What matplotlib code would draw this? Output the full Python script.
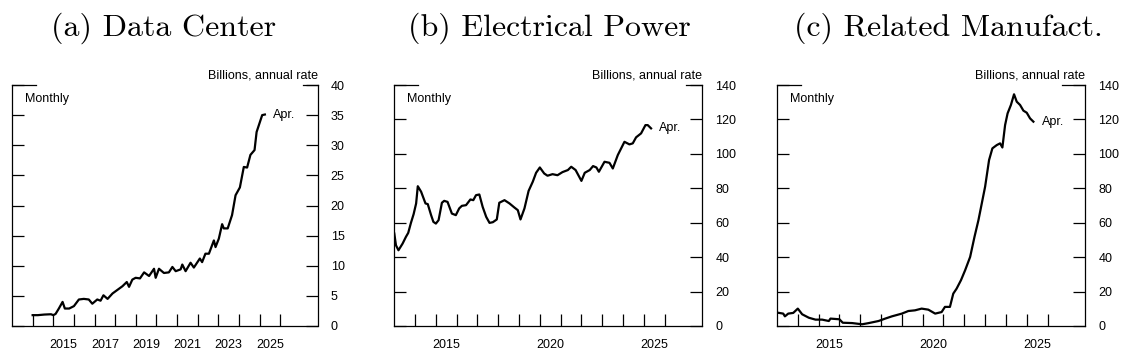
"""Three-panel construction spending chart (data center / electrical power / manufacturing)."""

import matplotlib
matplotlib.use("Agg")
import matplotlib.pyplot as plt
import numpy as np
from matplotlib.lines import Line2D

plt.rcParams["font.family"] = ["Liberation Sans", "DejaVu Sans"]
plt.rcParams["axes.unicode_minus"] = False

# (a) Data center, billions annual rate (decimal year, value)
dc_year = [2014.0, 2014.25, 2014.57, 2014.89, 2015.0, 2015.11, 2015.27, 2015.45, 2015.56,
           2015.77, 2016.0, 2016.24, 2016.48, 2016.72, 2016.89, 2017.13, 2017.29, 2017.43,
           2017.63, 2017.87, 2018.11, 2018.35, 2018.56, 2018.67, 2018.83, 2018.99, 2019.2,
           2019.4, 2019.64, 2019.88, 2019.96, 2020.12, 2020.36, 2020.6, 2020.77, 2020.93,
           2021.17, 2021.25, 2021.41, 2021.65, 2021.81, 2022.1, 2022.21, 2022.37, 2022.54,
           2022.78, 2022.86, 2023.02, 2023.18, 2023.26, 2023.45, 2023.66, 2023.83, 2024.04,
           2024.23, 2024.39, 2024.55, 2024.75, 2024.85, 2025.12, 2025.25]
dc_val = [1.8, 1.8, 1.9, 1.95, 1.8, 2.0, 2.9, 4.0, 2.9, 2.9, 3.3, 4.4, 4.5, 4.4, 3.7, 4.4,
          4.2, 5.1, 4.5, 5.4, 6.0, 6.6, 7.3, 6.5, 7.7, 8.0, 7.9, 8.9, 8.3, 9.5, 8.0, 9.5,
          8.8, 8.9, 9.8, 9.1, 9.4, 10.2, 9.1, 10.5, 9.7, 11.2, 10.6, 12.0, 12.0, 14.2, 13.1,
          14.5, 16.9, 16.2, 16.2, 18.4, 21.7, 23.0, 26.4, 26.3, 28.4, 29.2, 32.2, 35.0, 35.1]

# (b) Electrical power
ep_year = [2013.0, 2013.08, 2013.2, 2013.4, 2013.56, 2013.67, 2013.8, 2013.93, 2014.05,
           2014.13, 2014.29, 2014.5, 2014.61, 2014.77, 2014.88, 2015.0, 2015.13, 2015.29,
           2015.4, 2015.56, 2015.77, 2015.96, 2016.12, 2016.25, 2016.45, 2016.66, 2016.8,
           2016.93, 2017.09, 2017.25, 2017.42, 2017.58, 2017.74, 2017.93, 2018.05, 2018.3,
           2018.54, 2018.78, 2018.94, 2019.07, 2019.26, 2019.46, 2019.66, 2019.82, 2020.0,
           2020.21, 2020.37, 2020.61, 2020.85, 2021.09, 2021.35, 2021.51, 2021.72, 2022.0,
           2022.16, 2022.4, 2022.56, 2022.72, 2022.84, 2023.11, 2023.35, 2023.51, 2023.75,
           2024.07, 2024.31, 2024.47, 2024.63, 2024.87, 2025.08, 2025.19, 2025.35]
ep_val = [53.7, 46.9, 44.0, 47.9, 51.8, 54.1, 59.9, 65.0, 71.2, 81.2, 78.0, 71.2, 70.8, 64.4,
          60.5, 59.5, 61.5, 71.6, 72.7, 72.1, 65.3, 64.4, 68.3, 69.8, 70.2, 73.5, 73.1, 76.0,
          76.4, 69.2, 63.4, 59.9, 60.3, 61.9, 71.6, 73.1, 71.2, 68.8, 67.3, 61.9, 68.3, 78.5,
          83.8, 89.0, 92.1, 88.6, 87.3, 88.2, 87.6, 89.4, 90.6, 92.5, 90.6, 84.3, 89.0, 90.6,
          92.9, 92.1, 89.6, 95.4, 94.8, 91.5, 99.3, 107.0, 105.5, 106.1, 109.6, 111.9, 116.7,
          116.7, 114.8]

# (c) Related manufacturing
mf_year = [2013.0, 2013.3, 2013.38, 2013.54, 2013.78, 2014.0, 2014.21, 2014.53, 2014.85,
           2015.17, 2015.49, 2015.57, 2016.0, 2016.16, 2016.61, 2017.09, 2017.41, 2017.88,
           2018.2, 2018.52, 2019.0, 2019.31, 2019.63, 2019.95, 2020.27, 2020.6, 2020.91,
           2021.07, 2021.31, 2021.47, 2021.63, 2021.84, 2022.04, 2022.28, 2022.49, 2022.68,
           2022.84, 2023.0, 2023.19, 2023.35, 2023.56, 2023.72, 2023.83, 2023.96, 2024.08,
           2024.24, 2024.39, 2024.52, 2024.68, 2024.84, 2025.0, 2025.16, 2025.32]
mf_val = [7.8, 7.2, 5.6, 7.2, 7.6, 10.1, 6.8, 4.8, 3.7, 3.7, 2.9, 4.3, 3.9, 1.9, 1.7, 1.0,
          1.7, 2.9, 4.3, 5.6, 7.2, 8.7, 9.1, 10.1, 9.5, 7.2, 8.1, 11.1, 11.1, 18.8, 21.7, 26.6,
          32.4, 40.1, 51.8, 61.5, 71.2, 80.9, 96.4, 103.2, 105.1, 106.1, 103.7, 116.7, 123.5,
          128.4, 134.6, 130.3, 128.4, 125.1, 123.9, 120.6, 118.7]

titles = ["(a) Data Center", "(b) Electrical Power", "(c) Related Manufact."]
title_x = [164, 549, 948]
ymax = [40, 140, 140]
ystep = [5, 20, 20]
label_years = [[2015, 2017, 2019, 2021, 2023, 2025], [2015, 2020, 2025], [2015, 2020, 2025]]

W, H = 1128, 351
fig = plt.figure(figsize=(W / 100, H / 100), dpi=100)

# axes boxes in pixels: left, right ; top/bottom shared
boxes = [(12, 317.5), (394.3, 702), (777, 1085)]
top_px, bot_px = 85, 326
right_seg = [15, 16, 23]  # short bit of top border kept at the right corner (px)

series = [(dc_year, dc_val), (ep_year, ep_val), (mf_year, mf_val)]
tick_len = 12 * 72 / 100

for i, ((xl, xr), (xs, ys)) in enumerate(zip(boxes, series)):
    ax = fig.add_axes([xl / W, (H - bot_px) / H, (xr - xl) / W, (bot_px - top_px) / H])
    w_px = xr - xl
    ax.plot(xs, ys, color="black", lw=1.6, solid_joinstyle="round")
    ax.set_xlim(2013.0, 2027.8)
    ax.set_ylim(0, ymax[i])

    for s in ax.spines.values():
        s.set_linewidth(0.9)
    ax.spines["top"].set_visible(False)
    # broken top border: short pieces at the two corners
    ax.add_line(Line2D([0, 24 / w_px], [1, 1], transform=ax.transAxes, color="black",
                       lw=0.9, clip_on=False))
    ax.add_line(Line2D([1 - right_seg[i] / w_px, 1], [1, 1], transform=ax.transAxes,
                       color="black", lw=0.9, clip_on=False))

    # x: year ticks at January, labels centred mid-year
    ax.set_xticks(np.arange(2014, 2027))
    ax.set_xticklabels([])
    ax.set_xticks([y + 0.5 for y in label_years[i]], minor=True)
    ax.set_xticklabels([str(y) for y in label_years[i]], minor=True)
    ax.tick_params(axis="x", which="major", direction="in", length=tick_len, width=0.9)
    ax.tick_params(axis="x", which="minor", length=0, pad=9.5, labelsize=9)

    ax.set_yticks(np.arange(0, ymax[i] + 1, ystep[i]))
    ax.tick_params(axis="y", direction="in", length=tick_len, width=0.9, left=True,
                   right=True, labelleft=False, labelright=True, labelsize=9, pad=9.5)

    ax.text(1.0, 1.0 + 10 / (bot_px - top_px), "Billions, annual rate", transform=ax.transAxes,
            ha="right", va="center", fontsize=9)
    ax.text(13 / w_px, 1 - 14.3 / (bot_px - top_px), "Monthly", transform=ax.transAxes,
            ha="left", va="center", fontsize=9)
    ax.text(xs[-1] + 0.4, ys[-1], "Apr.", ha="left", va="center", fontsize=9)

    fig.text(title_x[i] / W, 1 - 28 / H, titles[i], ha="center", va="center",
             fontsize=23, family="cmr10")

fig.savefig("out.png", dpi=100)
